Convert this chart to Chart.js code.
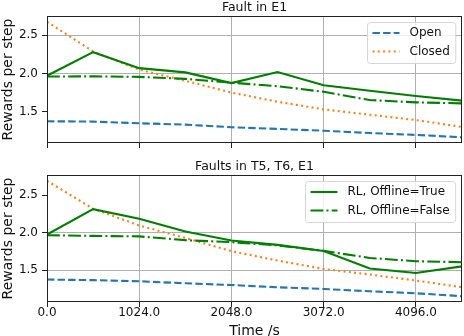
<!DOCTYPE html>
<html>
<head>
<meta charset="utf-8">
<script src="https://cdn.jsdelivr.net/npm/chart.js@4.4.0/dist/chart.umd.min.js"></script>
<style>
  html, body { margin: 0; padding: 0; background: #fff; overflow: hidden; }
  #wrap { position: relative; width: 464px; height: 336px; overflow: hidden; }
  #wrap canvas { position: absolute; left: 0; }
  #topChart { top: 0; }
  #bottomChart { top: 158px; }
</style>
</head>
<body>
<div id="wrap">
  <canvas id="topChart" width="464" height="158"></canvas>
  <canvas id="bottomChart" width="464" height="180"></canvas>
</div>
<script>
// ================================
// DATA
// ================================
const TIME_S = [0, 512, 1024, 1536, 2048, 2560, 3072, 3584, 4096, 4608];
const X_TICKS = [0, 1024, 2048, 3072, 4096];
const Y_TICKS = [1.5, 2.0, 2.5];

const LABELS = ['Open', 'Closed', 'RL, Offline=True', 'RL, Offline=False'];

// Fault in E1
const E1_OPEN = [1.374, 1.370, 1.348, 1.330, 1.296, 1.274, 1.250, 1.220, 1.195, 1.165];
const E1_CLOSED = [2.678, 2.290, 2.050, 1.905, 1.750, 1.630, 1.530, 1.460, 1.390, 1.300];
const E1_RL_TRUE = [1.970, 2.280, 2.070, 2.015, 1.875, 2.020, 1.845, 1.773, 1.705, 1.645];
const E1_RL_FALSE = [1.960, 1.963, 1.956, 1.930, 1.880, 1.834, 1.760, 1.652, 1.622, 1.609];

// Faults in T5, T6, E1
const MULTI_OPEN = [1.373, 1.365, 1.350, 1.323, 1.300, 1.270, 1.247, 1.216, 1.190, 1.150];
const MULTI_CLOSED = [2.694, 2.320, 2.096, 1.930, 1.752, 1.627, 1.515, 1.440, 1.360, 1.270];
const MULTI_RL_TRUE = [1.976, 2.315, 2.185, 2.016, 1.895, 1.837, 1.755, 1.520, 1.460, 1.550];
const MULTI_RL_FALSE = [1.966, 1.957, 1.950, 1.900, 1.873, 1.830, 1.756, 1.662, 1.618, 1.605];

// ================================
// STYLE
// ================================
const FONT = '"DejaVu Sans", sans-serif';
const TEXT = '#111';
const AXIS = '#222';
const GRID = '#b0b0b0';
const LW = 2.1;

const SERIES_STYLE = [
  { color: '#1f77b4', dash: [7.4, 3.2] },
  { color: '#ff7f0e', dash: [2, 3.3] },
  { color: '#008000', dash: [] },
  { color: '#008000', dash: [12.8, 3.2, 2, 3.2] }
];

// ================================
// UTILS
// ================================
const toPoints = (values) => TIME_S.map((x, i) => ({ x, y: values[i] }));

function yRange(series) {
  const all = series.flat();
  const lo = Math.min(...all);
  const hi = Math.max(...all);
  const pad = (hi - lo) * 0.05;
  return { min: lo - pad, max: hi + pad };
}

function buildDatasets(series) {
  // first dataset is drawn last (on top) in Chart.js
  return series.map((values, i) => ({
    label: LABELS[i],
    data: toPoints(values),
    borderColor: SERIES_STYLE[i].color,
    borderDash: SERIES_STYLE[i].dash,
    borderWidth: LW,
    pointRadius: 0,
    tension: 0,
    fill: false
  })).reverse();
}

// ================================
// PLUGINS
// ================================
const framePlugin = {
  id: 'frame',
  afterDatasetsDraw(chart) {
    const { ctx, chartArea: a } = chart;
    ctx.save();
    ctx.strokeStyle = AXIS;
    ctx.lineWidth = 1;
    ctx.strokeRect(a.left + 0.5, a.top + 0.5, a.right - a.left - 1, a.bottom - a.top - 1);
    ctx.restore();
  }
};

const panelTitlePlugin = {
  id: 'panelTitle',
  afterDraw(chart, args, opts) {
    const { ctx, chartArea: a } = chart;
    ctx.save();
    ctx.font = `12.5px ${FONT}`;
    ctx.fillStyle = TEXT;
    ctx.textAlign = 'center';
    ctx.textBaseline = 'alphabetic';
    ctx.fillText(opts.text, (a.left + a.right) / 2, a.top - 5);
    ctx.restore();
  }
};

const boxLegendPlugin = {
  id: 'boxLegend',
  afterDraw(chart, args, opts) {
    const { ctx, chartArea: a } = chart;
    const items = chart.data.datasets.filter(ds => opts.labels.includes(ds.label))
      .sort((p, q) => opts.labels.indexOf(p.label) - opts.labels.indexOf(q.label));

    ctx.save();
    ctx.font = `12px ${FONT}`;
    const textW = Math.max(...items.map(ds => ctx.measureText(ds.label).width));
    const w = 5 + 27 + 10 + textW + 6;
    const h = 41;
    const x = Math.round(a.right - 7 - w) + 0.5;
    const y = a.top + 6.5;

    ctx.beginPath();
    ctx.roundRect(x, y, w, h, 3);
    ctx.fillStyle = 'rgba(255,255,255,0.8)';
    ctx.fill();
    ctx.strokeStyle = '#d6d6d6';
    ctx.lineWidth = 1;
    ctx.stroke();

    items.forEach((ds, k) => {
      const cy = y + 10.5 + k * 18.5;
      ctx.beginPath();
      ctx.setLineDash(ds.borderDash);
      ctx.strokeStyle = ds.borderColor;
      ctx.lineWidth = ds.borderWidth;
      ctx.moveTo(x + 5, cy);
      ctx.lineTo(x + 32, cy);
      ctx.stroke();
      ctx.setLineDash([]);
      ctx.fillStyle = TEXT;
      ctx.textBaseline = 'middle';
      ctx.textAlign = 'left';
      ctx.fillText(ds.label, x + 42, cy);
    });
    ctx.restore();
  }
};

// ================================
// CHART
// ================================
function makeScales({ range, showX, hiddenGrid, xHeight }) {
  return {
    x: {
      type: 'linear',
      min: 0,
      max: TIME_S[TIME_S.length - 1],
      afterBuildTicks: s => { s.ticks = X_TICKS.map(value => ({ value })); },
      afterFit: s => { s.height = xHeight; },
      border: { display: false },
      grid: { color: GRID, lineWidth: 1, tickColor: AXIS, tickLength: 5 },
      ticks: {
        display: showX,
        color: TEXT,
        font: { family: FONT, size: 12, lineHeight: 1 },
        padding: 0,
        maxRotation: 0,
        autoSkip: false,
        callback: v => Number(v).toFixed(1)
      },
      title: {
        display: showX,
        text: 'Time /s',
        color: TEXT,
        font: { family: FONT, size: 14, lineHeight: 1 },
        padding: 0
      }
    },
    y: {
      min: range.min,
      max: range.max,
      afterBuildTicks: s => { s.ticks = Y_TICKS.map(value => ({ value })); },
      afterFit: s => { s.width = 47; },
      border: { display: false },
      grid: {
        color: c => (c.tick && c.tick.value === hiddenGrid ? 'rgba(0,0,0,0)' : GRID),
        lineWidth: 1,
        tickColor: AXIS,
        tickLength: 5
      },
      ticks: {
        color: TEXT,
        font: { family: FONT, size: 12 },
        padding: 4,
        callback: v => Number(v).toFixed(1)
      },
      title: {
        display: true,
        text: 'Rewards per step',
        color: TEXT,
        font: { family: FONT, size: 14, lineHeight: 1 },
        padding: { top: 1.5, bottom: 0 }
      }
    }
  };
}

function renderPanel(canvasId, { title, series, legend, showX, hiddenGrid, xHeight, padTop }) {
  return new Chart(document.getElementById(canvasId), {
    type: 'line',
    data: { datasets: buildDatasets(series) },
    options: {
      responsive: false,
      animation: false,
      events: [],
      layout: { padding: { top: padTop, right: 2, left: 0, bottom: 0 } },
      scales: makeScales({ range: yRange(series), showX, hiddenGrid, xHeight }),
      plugins: {
        legend: { display: false },
        tooltip: { enabled: false },
        panelTitle: { text: title },
        boxLegend: { labels: legend }
      }
    },
    plugins: [framePlugin, panelTitlePlugin, boxLegendPlugin]
  });
}

document.addEventListener('DOMContentLoaded', () => {
  renderPanel('topChart', {
    title: 'Fault in E1',
    series: [E1_OPEN, E1_CLOSED, E1_RL_TRUE, E1_RL_FALSE],
    legend: ['Open', 'Closed'],
    showX: false,
    hiddenGrid: 1.5,
    xHeight: 15,
    padTop: 16
  });

  renderPanel('bottomChart', {
    title: 'Faults in T5, T6, E1',
    series: [MULTI_OPEN, MULTI_CLOSED, MULTI_RL_TRUE, MULTI_RL_FALSE],
    legend: ['RL, Offline=True', 'RL, Offline=False'],
    showX: true,
    hiddenGrid: 2.5,
    xHeight: 36,
    padTop: 17
  });
});
</script>
</body>
</html>
